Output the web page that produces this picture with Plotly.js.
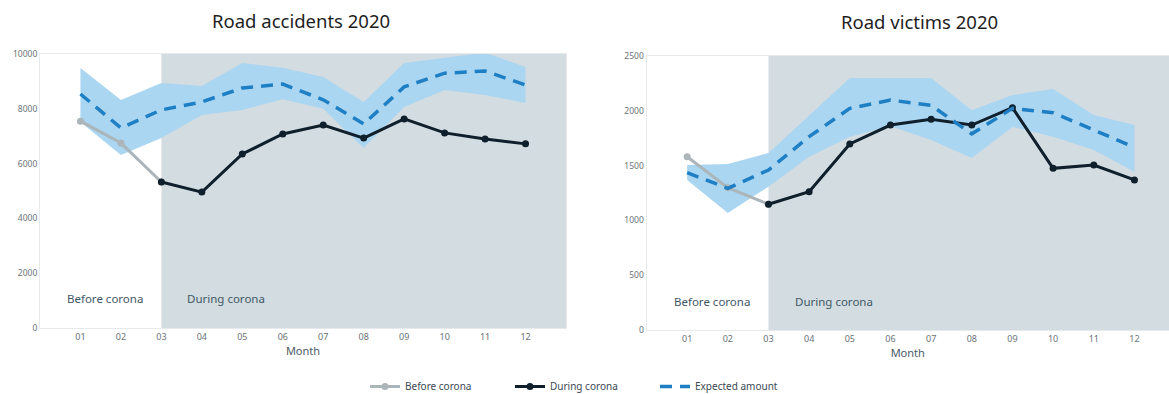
<!DOCTYPE html>
<html><head><meta charset="utf-8">
<script src="https://cdn.plot.ly/plotly-3.0.1.min.js"></script>
<style>html,body{margin:0;padding:0;background:#fff;overflow:hidden}#chart{width:1169px;height:394px}</style>
</head><body><div id="chart"></div>
<script>
const months = ["01","02","03","04","05","06","07","08","09","10","11","12"];
// Road accidents 2020
const accBeforeMonths = ["01","02","03"];
const accBefore = [7550, 6750, 5330];
const accDuringMonths = ["03","04","05","06","07","08","09","10","11","12"];
const accDuring = [5330, 4960, 6350, 7080, 7410, 6930, 7630, 7120, 6900, 6720];
const accExpected = [8540, 7300, 7960, 8250, 8760, 8900, 8330, 7450, 8800, 9300, 9380, 8870];
const accUpper = [9490, 8320, 8940, 8830, 9670, 9500, 9160, 8250, 9670, 9850, 10050, 9530];
const accLower = [7520, 6310, 6930, 7770, 7960, 8350, 8000, 6570, 8070, 8690, 8500, 8210];
// Road victims 2020
const vicBeforeMonths = ["01","02","03"];
const vicBefore = [1581, 1299, 1147];
const vicDuringMonths = ["03","04","05","06","07","08","09","10","11","12"];
const vicDuring = [1147, 1262, 1697, 1870, 1922, 1870, 2028, 1475, 1505, 1369];
const vicExpected = [1435, 1293, 1460, 1764, 2022, 2098, 2050, 1790, 2022, 1983, 1825, 1667];
const vicUpper = [1505, 1515, 1615, 1960, 2300, 2300, 2300, 2005, 2144, 2199, 1962, 1870];
const vicLower = [1369, 1067, 1308, 1581, 1764, 1860, 1733, 1569, 1852, 1764, 1642, 1445];

const idx = m => months.indexOf(m) + 1;
const X = arr => arr.map(idx);

const cBand = '#aad6f2', cExp = '#1f7fc4', cDuring = '#0f1f2b', cBefore = '#abb5ba';
const font = 'Noto Sans, Open Sans, sans-serif';

function series(xa, ya, upper, lower, expected, beforeM, before, duringM, during, show) {
  return [
    {x: X(months), y: lower, xaxis: xa, yaxis: ya, type: 'scatter', mode: 'lines',
     line: {width: 0, color: cBand}, showlegend: false, hoverinfo: 'skip'},
    {x: X(months), y: upper, xaxis: xa, yaxis: ya, type: 'scatter', mode: 'lines',
     line: {width: 0, color: cBand}, fill: 'tonexty', fillcolor: cBand, showlegend: false, hoverinfo: 'skip'},
    {x: X(beforeM), y: before, xaxis: xa, yaxis: ya, type: 'scatter', mode: 'lines+markers',
     name: 'Before corona', legendrank: 1, showlegend: show,
     line: {color: cBefore, width: 3}, marker: {color: cBefore, size: 7}},
    {x: X(duringM), y: during, xaxis: xa, yaxis: ya, type: 'scatter', mode: 'lines+markers',
     name: 'During corona', legendrank: 2, showlegend: show,
     line: {color: cDuring, width: 3}, marker: {color: cDuring, size: 7}},
    {x: X(months), y: expected, xaxis: xa, yaxis: ya, type: 'scatter', mode: 'lines',
     name: 'Expected amount', legendrank: 3, showlegend: show,
     line: {color: cExp, width: 3.5, dash: '12px,8px'}}
  ];
}

const data = [].concat(
  series('x', 'y', accUpper, accLower, accExpected, accBeforeMonths, accBefore, accDuringMonths, accDuring, true),
  series('x2', 'y2', vicUpper, vicLower, vicExpected, vicBeforeMonths, vicBefore, vicDuringMonths, vicDuring, false)
);

const W = 1169, H = 394;
const xCommon = {
  tickmode: 'array', tickvals: X(months), ticktext: months,
  showgrid: false, zeroline: false, ticks: '', automargin: false,
  showline: true, linecolor: '#e6eaec', linewidth: 1, mirror: true,
  tickfont: {family: font, size: 9, color: '#6b7378'},
  title: {text: 'Month', font: {family: font, size: 11, color: '#4a5a66'}, standoff: 2}
};
const yCommon = {
  showgrid: false, zeroline: false, ticks: '', automargin: false, tickformat: 'd',
  showline: true, linecolor: '#e6eaec', linewidth: 1, mirror: true,
  tickfont: {family: font, size: 8.5, color: '#6b7378'}
};

const layout = {
  width: W, height: H,
  margin: {l: 0, r: 0, t: 0, b: 0, autoexpand: false},
  paper_bgcolor: '#ffffff', plot_bgcolor: '#ffffff',
  font: {family: font},
  showlegend: true,
  legend: {orientation: 'h', x: 365 / W, xanchor: 'left', y: -7 / H, yanchor: 'bottom',
           font: {family: font, size: 10, color: '#3c4a55'},
           entrywidth: 100, entrywidthmode: 'pixels', traceorder: 'normal'},
  xaxis: Object.assign({}, xCommon, {domain: [40 / W, 566 / W], range: [0, 13], anchor: 'y'}),
  yaxis: Object.assign({}, yCommon, {domain: [66 / H, 340 / H], range: [0, 10000], dtick: 2000, anchor: 'x'}),
  xaxis2: Object.assign({}, xCommon, {domain: [646.5 / W, 1], range: [0, 12.85], anchor: 'y2'}),
  yaxis2: Object.assign({}, yCommon, {domain: [64 / H, 338 / H], range: [0, 2500], dtick: 500, anchor: 'x2'}),
  shapes: [
    {type: 'rect', xref: 'x', yref: 'y domain', x0: idx('03'), x1: 13, y0: 0, y1: 1,
     fillcolor: '#d3dce0', line: {width: 0}, layer: 'below'},
    {type: 'rect', xref: 'x2', yref: 'y2 domain', x0: idx('03'), x1: 12.85, y0: 0, y1: 1,
     fillcolor: '#d3dce0', line: {width: 0}, layer: 'below'}
  ],
  annotations: [
    {text: 'Road accidents 2020', xref: 'paper', yref: 'paper', x: 301 / W, y: (H - 21) / H,
     xanchor: 'center', yanchor: 'middle', showarrow: false, font: {family: font, size: 18.5, color: '#1e1e1e'}},
    {text: 'Road victims 2020', xref: 'paper', yref: 'paper', x: 919 / W, y: (H - 22) / H,
     xanchor: 'center', yanchor: 'middle', showarrow: false, font: {family: font, size: 18.5, color: '#1e1e1e'}},
    {text: 'Before corona', xref: 'paper', yref: 'paper', x: 105 / W, y: (H - 298) / H,
     xanchor: 'center', yanchor: 'middle', showarrow: false, font: {family: font, size: 11.5, color: '#425866'}},
    {text: 'During corona', xref: 'paper', yref: 'paper', x: 226 / W, y: (H - 298) / H,
     xanchor: 'center', yanchor: 'middle', showarrow: false, font: {family: font, size: 11.5, color: '#425866'}},
    {text: 'Before corona', xref: 'paper', yref: 'paper', x: 712 / W, y: (H - 301) / H,
     xanchor: 'center', yanchor: 'middle', showarrow: false, font: {family: font, size: 11.5, color: '#425866'}},
    {text: 'During corona', xref: 'paper', yref: 'paper', x: 834 / W, y: (H - 301) / H,
     xanchor: 'center', yanchor: 'middle', showarrow: false, font: {family: font, size: 11.5, color: '#425866'}}
  ]
};

Plotly.newPlot('chart', data, layout, {displayModeBar: false, staticPlot: true});
</script></body></html>
